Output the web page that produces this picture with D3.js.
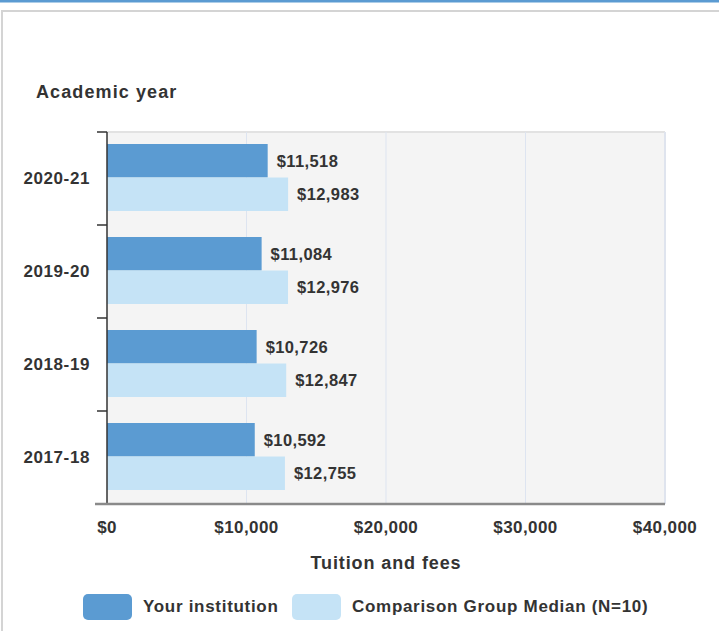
<!DOCTYPE html>
<html><head><meta charset="utf-8">
<script src="https://cdn.jsdelivr.net/npm/d3@7"></script>
<style>body{margin:0;background:#fff;} svg{display:block;}</style>
</head><body><svg id="c" width="719" height="631"></svg>
<script>
const categories = ["2020-21","2019-20","2018-19","2017-18"];
const seriesNames = ["Your institution","Comparison Group Median (N=10)"];
const yourInstitution = [11518, 11084, 10726, 10592];
const comparisonMedian = [12983, 12976, 12847, 12755];
const xTicks = [0, 10000, 20000, 30000, 40000];
const colors = ["#5b9bd2", "#c5e3f6"];

const svg = d3.select("#c");
const font = "'Liberation Sans', Arial, sans-serif";
const textColor = "#333";
function txt(sel, size, ls){
  return sel.attr("font-family",font).attr("font-size",size+"px").attr("font-weight","bold")
    .attr("letter-spacing",ls+"px").attr("fill",textColor);
}

// frame
svg.append("rect").attr("x",0).attr("y",0).attr("width",719).attr("height",2.5).attr("fill","#5b9bd2");
svg.append("rect").attr("x",2).attr("y",11).attr("width",740).attr("height",640)
  .attr("fill","none").attr("stroke","#d4d4d4").attr("stroke-width",2);

const L=107, R=665, T=132, B=504;
const x = d3.scaleLinear().domain([0,40000]).range([L,R]);
const y = d3.scaleBand().domain(categories).range([T,B]);
const sub = d3.scaleBand().domain([0,1]).range([12, y.bandwidth()-14]);

// plot background
svg.append("rect").attr("x",L).attr("y",T).attr("width",R-L).attr("height",B-T)
  .attr("fill","#f4f4f4");
svg.append("line").attr("x1",L).attr("x2",R).attr("y1",T).attr("y2",T).attr("stroke","#e2e2e2").attr("stroke-width",2);
svg.append("line").attr("x1",R).attr("x2",R).attr("y1",T).attr("y2",B).attr("stroke","#dfe4ee").attr("stroke-width",2);

// grid
svg.append("g").selectAll("line").data(xTicks.slice(1,-1)).join("line")
  .attr("x1",d=>x(d)).attr("x2",d=>x(d)).attr("y1",T).attr("y2",B)
  .attr("stroke","#dde4f0").attr("stroke-width",1);

// bars
const data = categories.map((c,i)=>({c, v:[yourInstitution[i], comparisonMedian[i]]}));
const g = svg.append("g");
data.forEach(d=>{
  d.v.forEach((v,j)=>{
    g.append("rect").attr("x",x(0)).attr("y",y(d.c)+sub(j))
      .attr("width",x(v)-x(0)).attr("height",sub.bandwidth()).attr("fill",colors[j]);
    txt(g.append("text").attr("x",x(v)+9).attr("y",y(d.c)+sub(j)+sub.bandwidth()/2)
      .attr("dy","0.35em"), 16.5, 0.4).text(d3.format("$,")(v));
  });
});

// left axis
const yAxis = svg.append("g");
yAxis.append("line").attr("x1",L).attr("x2",L).attr("y1",T).attr("y2",B).attr("stroke","#333").attr("stroke-width",1.5);
const bounds = categories.map(c=>y(c)).concat([B]);
yAxis.selectAll("line.t").data(bounds).join("line").attr("class","t")
  .attr("x1",L-10).attr("x2",L).attr("y1",d=>d).attr("y2",d=>d).attr("stroke","#333").attr("stroke-width",1.5);
txt(yAxis.selectAll("text").data(categories).join("text")
  .attr("x",L-17).attr("y",d=>y(d)+y.bandwidth()/2).attr("dy","0.35em").attr("text-anchor","end"), 17, 0.6)
  .text(d=>d);

// bottom axis
svg.append("line").attr("x1",L-12).attr("x2",R).attr("y1",B).attr("y2",B).attr("stroke","#8a8a8a").attr("stroke-width",2.5);
txt(svg.append("g").selectAll("text").data(xTicks).join("text")
  .attr("x",d=>x(d)).attr("y",527).attr("dy","0.35em").attr("text-anchor","middle"), 17, 0.4)
  .text(d=>d3.format("$,")(d));

// titles
txt(svg.append("text").attr("x",36).attr("y",92).attr("dy","0.35em"), 18, 1.1).text("Academic year");
txt(svg.append("text").attr("x",(L+R)/2).attr("y",563).attr("dy","0.35em").attr("text-anchor","middle"), 18, 0.9)
  .text("Tuition and fees");

// legend
const legX = [83, 292];
seriesNames.forEach((s,i)=>{
  svg.append("rect").attr("x",legX[i]).attr("y",594).attr("width",49).attr("height",26).attr("rx",5)
    .attr("fill",colors[i]);
  txt(svg.append("text").attr("x",legX[i]+60).attr("y",606).attr("dy","0.35em"), 17, 0.7).text(s);
});
</script></body></html>
